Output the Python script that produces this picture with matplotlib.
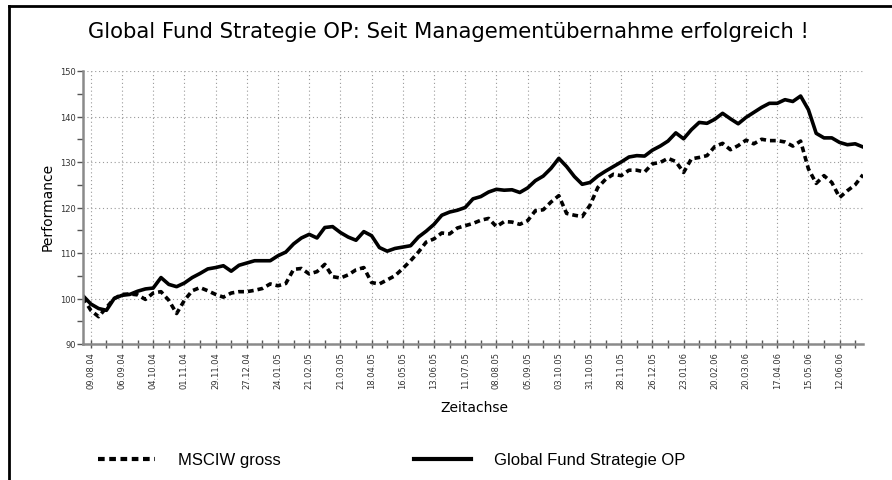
import matplotlib
matplotlib.use("Agg")
import matplotlib.pyplot as plt
import matplotlib.dates as mdates
from matplotlib.ticker import MultipleLocator, FixedLocator
from matplotlib.lines import Line2D
import pandas as pd

# ---- data (weekly readings) ----
start_date = "2004-08-02"
n_weeks = 101
dates = pd.date_range(start_date, periods=n_weeks, freq="7D")

fund = [
    100.6, 98.8, 97.8, 97.4, 100.0, 100.7, 100.9, 101.6, 102.1, 102.3,
    104.6, 103.1, 102.6, 103.4, 104.6, 105.5, 106.5, 106.8, 107.2, 106.0,
    107.3, 107.8, 108.3, 108.3, 108.3, 109.4, 110.2, 112.0, 113.3, 114.1,
    113.3, 115.6, 115.8, 114.5, 113.5, 112.8, 114.7, 113.8, 111.2, 110.4,
    111.0, 111.3, 111.6, 113.5, 114.8, 116.3, 118.3, 119.0, 119.4, 120.0,
    121.9, 122.4, 123.4, 124.0, 123.8, 123.9, 123.3, 124.3, 125.9, 126.9,
    128.6, 130.8, 129.0, 126.8, 125.1, 125.5, 126.9, 128.0, 129.0, 130.0,
    131.1, 131.4, 131.3, 132.6, 133.5, 134.6, 136.4, 135.1, 137.1, 138.7,
    138.5, 139.4, 140.7, 139.5, 138.4, 139.8, 140.9, 142.0, 142.9, 142.9,
    143.7, 143.3, 144.5, 141.5, 136.3, 135.3, 135.3, 134.3, 133.8, 134.0,
    133.3,
]

msci = [
    100.2, 97.4, 96.0, 98.0, 100.0, 100.9, 101.0, 100.8, 99.8, 101.2,
    101.5, 99.6, 96.7, 99.6, 101.7, 102.4, 101.7, 100.9, 100.3, 101.2,
    101.5, 101.5, 101.8, 102.2, 103.2, 102.8, 103.3, 106.4, 106.6, 105.4,
    105.9, 107.5, 104.8, 104.5, 105.2, 106.3, 106.8, 103.5, 103.2, 104.1,
    105.0, 106.6, 108.3, 110.2, 112.4, 113.1, 114.4, 114.2, 115.5, 116.0,
    116.5, 117.2, 117.6, 115.8, 116.9, 116.8, 116.3, 117.1, 119.3, 119.5,
    121.2, 122.6, 118.7, 118.3, 118.0, 120.5, 124.4, 126.2, 127.3, 127.0,
    128.2, 128.2, 127.8, 129.6, 129.9, 130.8, 130.1, 127.7, 130.7, 131.0,
    131.4, 133.4, 134.1, 132.7, 133.6, 134.8, 134.0, 135.0, 134.7, 134.7,
    134.4, 133.5, 134.6, 128.5, 125.3, 127.0, 125.5, 122.2, 123.7, 125.0,
    127.2,
]

tick_dates = pd.date_range("2004-08-09", "2006-06-12", freq="28D")
minor_dates = pd.date_range("2004-08-23", "2006-06-26", freq="28D")
x_limits = ("2004-08-02", "2006-07-03")
y_limits = (90, 150)

title = "Global Fund Strategie OP: Seit Managementübernahme erfolgreich !"
ylabel = "Performance"
xlabel = "Zeitachse"
msci_label = "MSCIW gross"
fund_label = "Global Fund Strategie OP"

# ---- figure ----
W, H = 892, 481
fig = plt.figure(figsize=(W / 100, H / 100), dpi=100)
fig.patch.set_facecolor("white")

# outer border (top + left)
fig.add_artist(Line2D([9 / W, 1.0], [1 - 6.5 / H, 1 - 6.5 / H], transform=fig.transFigure,
                      color="black", lw=2.0))
fig.add_artist(Line2D([9 / W, 9 / W], [0.0, 1 - 6.5 / H], transform=fig.transFigure,
                      color="black", lw=2.0))

ax = fig.add_axes([83 / W, 1 - 345 / H, (863 - 83) / W, (345 - 72) / H])
ax.set_facecolor("white")

ax.plot(dates, msci, color="black", lw=2.6, linestyle=(0, (1.6, 1.1)),
        solid_capstyle="butt", dash_capstyle="butt", label=msci_label)
ax.plot(dates, fund, color="black", lw=2.6, solid_joinstyle="round", label=fund_label)

ax.set_xlim(pd.Timestamp(x_limits[0]), pd.Timestamp(x_limits[1]))
ax.set_ylim(*y_limits)

ax.xaxis.set_major_locator(FixedLocator(mdates.date2num(tick_dates)))
ax.xaxis.set_minor_locator(FixedLocator(mdates.date2num(minor_dates)))
ax.xaxis.set_major_formatter(mdates.DateFormatter("%d.%m.%y"))
ax.yaxis.set_major_locator(MultipleLocator(10))
ax.yaxis.set_minor_locator(MultipleLocator(5))

for lab in ax.get_xticklabels():
    lab.set_rotation(90)

spine_col = "#8a8a8a"
for s in ("top", "right"):
    ax.spines[s].set_visible(False)
for s in ("left", "bottom"):
    ax.spines[s].set_color(spine_col)
    ax.spines[s].set_linewidth(1.8)

ax.tick_params(axis="x", which="both", direction="inout", length=6, width=1,
               color="#555555", labelsize=6, labelcolor="#333333", pad=2)
ax.tick_params(axis="y", which="both", direction="out", length=4, width=1,
               color="#555555", labelsize=6, labelcolor="#333333", pad=1)

ax.grid(True, which="major", axis="both", color="#9a9a9a", linestyle=(0, (1, 2.5)), lw=0.8)
ax.set_axisbelow(True)

fig.text(448 / W, 1 - 32 / H, title, ha="center", va="center", fontsize=15.2,
         family="DejaVu Sans", color="black")
fig.text(48 / W, 1 - 207 / H, ylabel, rotation=90, ha="center", va="center",
         fontsize=10, family="DejaVu Sans")
fig.text(474 / W, 1 - 408 / H, xlabel, ha="center", va="center", fontsize=10,
         family="DejaVu Sans")

leg = fig.legend(loc="center left", bbox_to_anchor=(98 / W, 1 - 461 / H), ncol=2,
                 frameon=False, borderpad=0, borderaxespad=0,
                 handlelength=3.4, handletextpad=1.4, columnspacing=8.0,
                 prop={"family": "Liberation Sans", "size": 12})
for h in leg.get_lines():
    h.set_linewidth(3.0)

fig.savefig("out.png", dpi=100, facecolor="white")
